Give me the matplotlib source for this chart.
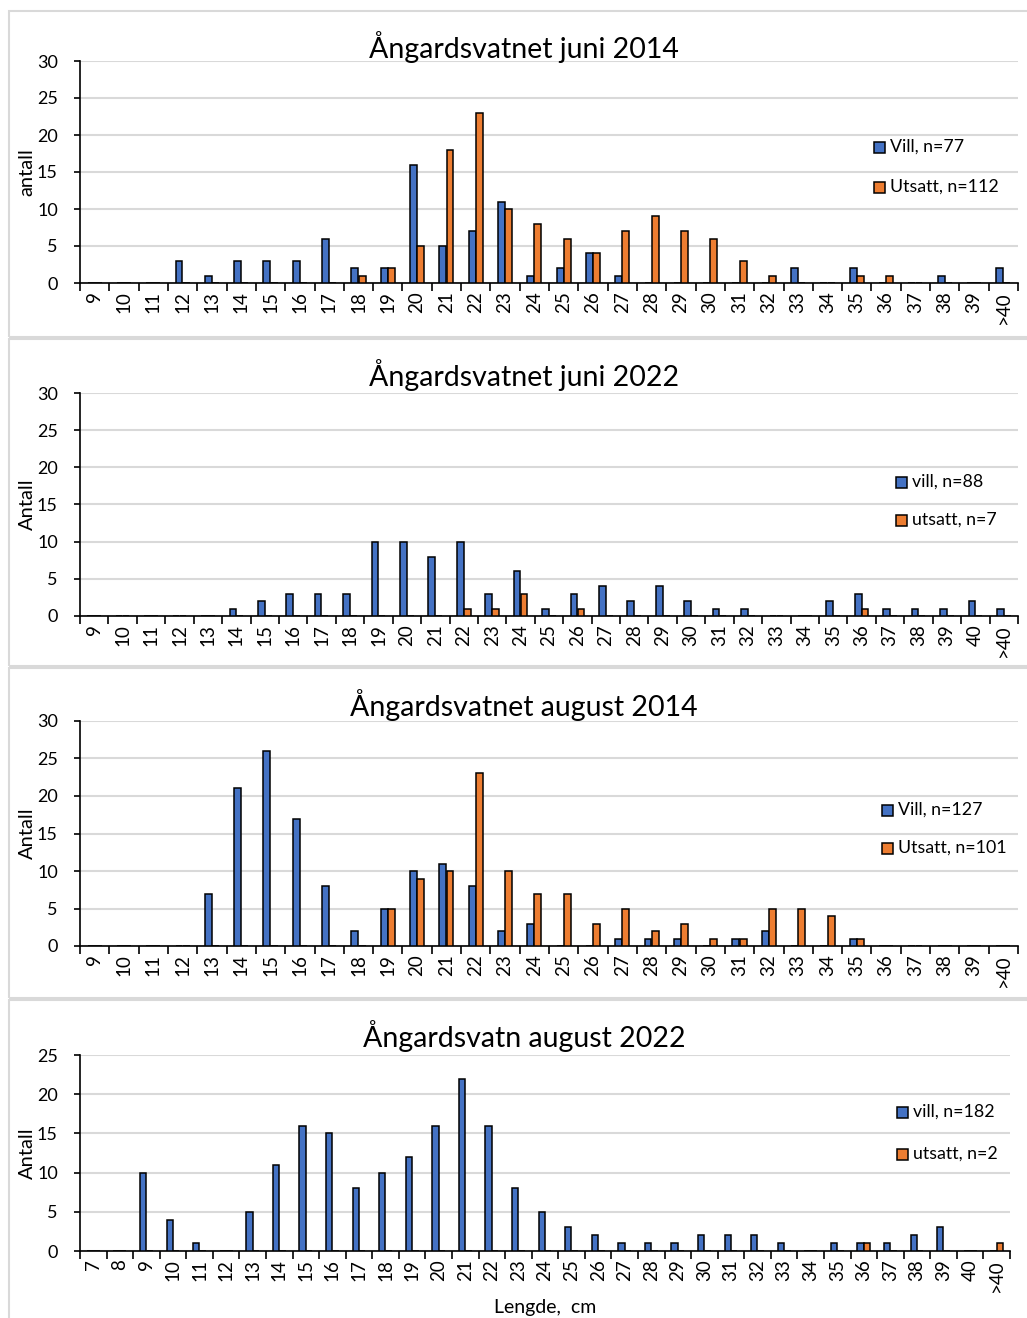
import matplotlib
matplotlib.use("Agg")
import matplotlib.pyplot as plt
from matplotlib.patches import Rectangle
import numpy as np

plt.rcParams['font.family'] = ['Lato', 'DejaVu Sans']

# ---------------- data ----------------
cats_jun14 = [str(c) for c in range(9, 40)] + ['>40']
vill_jun14 = [0, 0, 0, 3, 1, 3, 3, 3, 6, 2, 2, 16, 5, 7, 11, 1, 2, 4, 1, 0, 0, 0, 0, 0, 2, 0, 2, 0, 0, 1, 0, 2]
uts_jun14 = [0, 0, 0, 0, 0, 0, 0, 0, 0, 1, 2, 5, 18, 23, 10, 8, 6, 4, 7, 9, 7, 6, 3, 1, 0, 0, 1, 1, 0, 0, 0, 0]

cats_jun22 = [str(c) for c in range(9, 41)] + ['>40']
vill_jun22 = [0, 0, 0, 0, 0, 1, 2, 3, 3, 3, 10, 10, 8, 10, 3, 6, 1, 3, 4, 2, 4, 2, 1, 1, 0, 0, 2, 3, 1, 1, 1, 2, 1]
uts_jun22 = [0, 0, 0, 0, 0, 0, 0, 0, 0, 0, 0, 0, 0, 1, 1, 3, 0, 1, 0, 0, 0, 0, 0, 0, 0, 0, 0, 1, 0, 0, 0, 0, 0]

cats_aug14 = [str(c) for c in range(9, 40)] + ['>40']
vill_aug14 = [0, 0, 0, 0, 7, 21, 26, 17, 8, 2, 5, 10, 11, 8, 2, 3, 0, 0, 1, 1, 1, 0, 1, 2, 0, 0, 1, 0, 0, 0, 0, 0]
uts_aug14 = [0, 0, 0, 0, 0, 0, 0, 0, 0, 0, 5, 9, 10, 23, 10, 7, 7, 3, 5, 2, 3, 1, 1, 5, 5, 4, 1, 0, 0, 0, 0, 0]

cats_aug22 = [str(c) for c in range(7, 41)] + ['>40']
vill_aug22 = [0, 0, 10, 4, 1, 0, 5, 11, 16, 15, 8, 10, 12, 16, 22, 16, 8, 5, 3, 2, 1, 1, 1, 2, 2, 2, 1, 0, 1, 1, 1, 2, 3, 0, 0]
uts_aug22 = [0] * 29 + [1, 0, 0, 0, 0, 1]

titles = ["Ångardsvatnet juni 2014", "Ångardsvatnet juni 2022",
          "Ångardsvatnet august 2014", "Ångardsvatn august 2022"]
ylabels = ["antall", "Antall", "Antall", "Antall"]
legends = [("Vill, n=77", "Utsatt, n=112"), ("vill, n=88", "utsatt, n=7"),
           ("Vill, n=127", "Utsatt, n=101"), ("vill, n=182", "utsatt, n=2")]

BLUE = "#4472C4"
ORANGE = "#ED7D31"
GRID = "#d9d9d9"

W, H = 1027, 1318
fig = plt.figure(figsize=(W / 100, H / 100), dpi=100)

def fx(px):
    return px / W

def fy(py):
    return 1 - py / H

# panel boxes (pixel coordinates: top, bottom)
boxes = [(11, 337), (339, 666), (668, 998), (1000, 1330)]
for top, bot in boxes:
    fig.patches.append(Rectangle((fx(9), fy(bot)), fx(1040) - fx(9), fy(top) - fy(bot),
                                 transform=fig.transFigure, facecolor='none',
                                 edgecolor=GRID, linewidth=1.5, zorder=-1))

# axes geometry in pixels: left, right, y_top, y_bottom, ymax
geo = [(80, 1018, 61, 283, 30),
       (80, 1018, 393, 616, 30),
       (80, 1018, 721, 946, 30),
       (80, 1010, 1055, 1251, 25)]
title_y = [47, 375, 705, 1036]
legend_y = [(147, 187), (482, 520), (810, 848), (1112, 1154)]
legend_x = [874, 896, 882, 897]

datasets = [(cats_jun14, vill_jun14, uts_jun14), (cats_jun22, vill_jun22, uts_jun22),
            (cats_aug14, vill_aug14, uts_aug14), (cats_aug22, vill_aug22, uts_aug22)]

for k, ((cats, vill, uts), (l, r, t, b, ymax)) in enumerate(zip(datasets, geo)):
    ax = fig.add_axes([fx(l), fy(b), fx(r) - fx(l), fy(t) - fy(b)])
    n = len(cats)
    x = np.arange(n)
    w = 0.235
    ax.bar(x - w / 2 - 0.005, vill, width=w, color=BLUE, edgecolor='black', linewidth=1.1, zorder=3)
    ax.bar(x + w / 2 + 0.005, uts, width=w, color=ORANGE, edgecolor='black', linewidth=1.1, zorder=3)
    ax.set_xlim(-0.5, n - 0.5)
    ax.set_ylim(0, ymax)
    ax.set_yticks(np.arange(0, ymax + 1, 5))
    ax.yaxis.grid(True, color=GRID, linewidth=1.5, zorder=0)
    ax.set_axisbelow(True)
    for s in ['top', 'right']:
        ax.spines[s].set_visible(False)
    ax.spines['left'].set_linewidth(1.2)
    ax.spines['bottom'].set_linewidth(1.2)
    ax.tick_params(axis='y', length=4, width=1.2, labelsize=13, pad=12, colors='black')
    ax.set_xticks(x)
    ax.set_xticklabels(cats, rotation=90, fontsize=13.5)
    ax.tick_params(axis='x', which='major', length=0, pad=6)
    ax.set_xticks(np.arange(-0.5, n, 1), minor=True)
    ax.tick_params(axis='x', which='minor', length=6, width=1.2, direction='out')
    ax.set_facecolor('none')

    fig.text(fx(524), fy(title_y[k]), titles[k], ha='center', va='center', fontsize=20.5)
    fig.text(fx(27), (fy(t) + fy(b)) / 2, ylabels[k], rotation=90, ha='center', va='center', fontsize=14.5)

    # legend
    for j, (lab, col) in enumerate(zip(legends[k], [BLUE, ORANGE])):
        yy = legend_y[k][j]
        sq = 11
        fig.patches.append(Rectangle((fx(legend_x[k]), fy(yy + sq / 2)), sq / W, sq / H,
                                     transform=fig.transFigure, facecolor=col,
                                     edgecolor='black', linewidth=1.1, zorder=5))
        fig.text(fx(legend_x[k] + sq + 5), fy(yy), lab, ha='left', va='center', fontsize=12.8)

fig.text(fx(545), fy(1307), "Lengde,  cm", ha='center', va='center', fontsize=14)

fig.savefig("out.png", dpi=100, facecolor='white')
